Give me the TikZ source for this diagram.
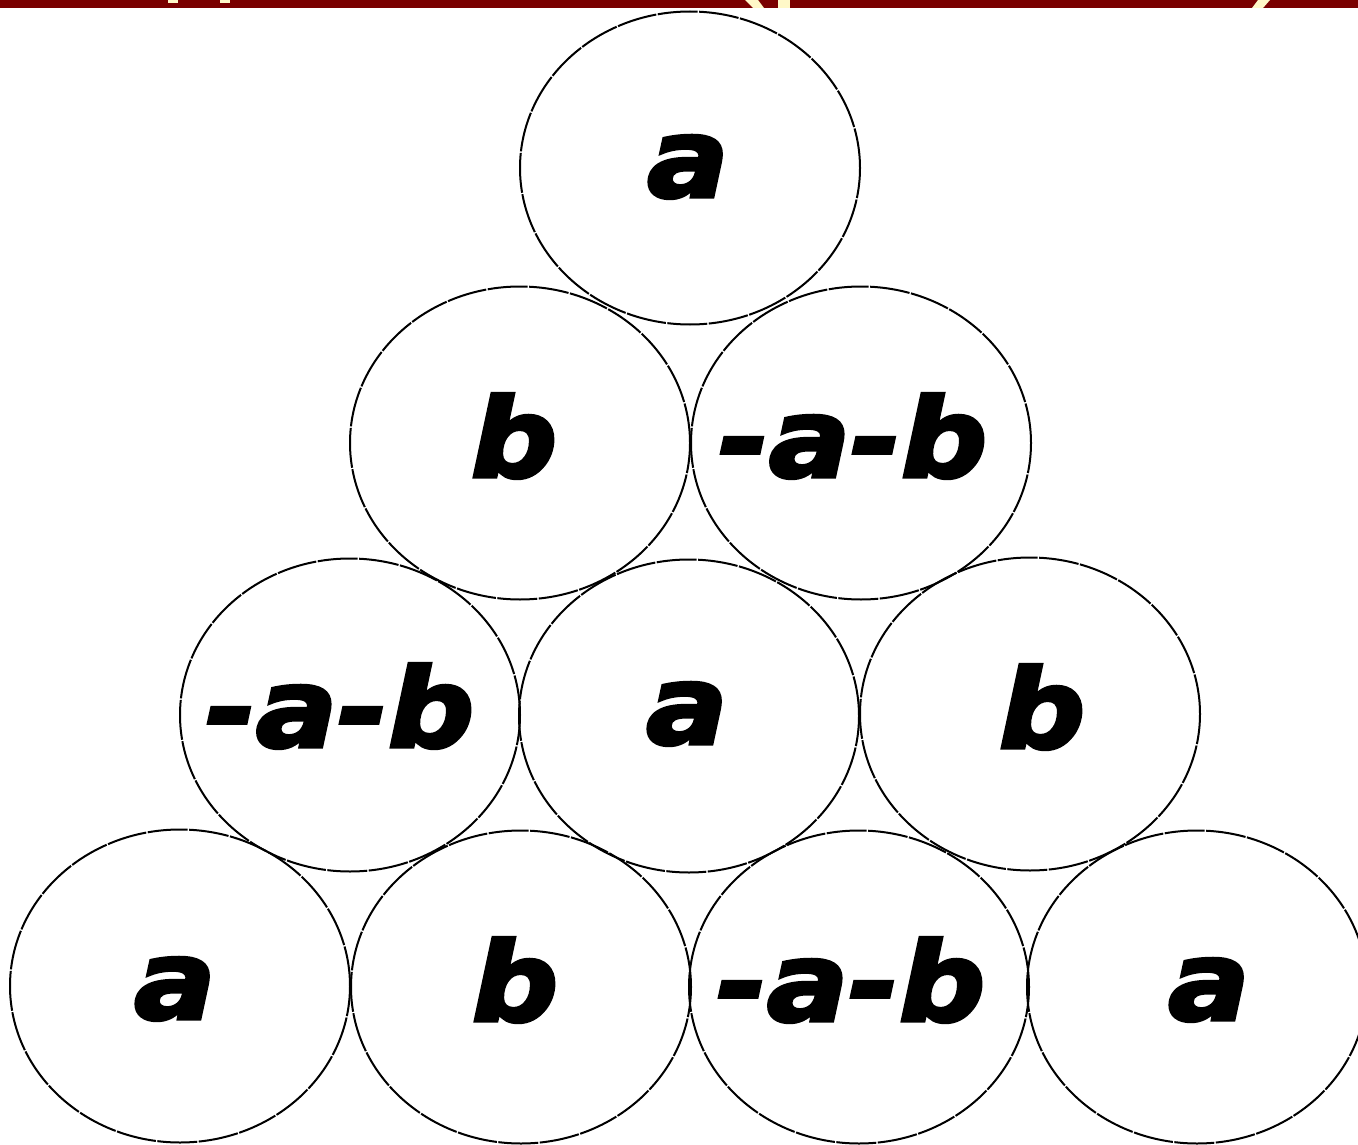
\documentclass[tikz,border=0pt]{standalone}
\usepackage{fontspec}
\newfontfamily\lblfont[FakeBold=3]{DejaVu Sans}
\usetikzlibrary{shapes.geometric}
\definecolor{band}{RGB}{122,0,0}
\definecolor{cream}{RGB}{255,248,200}
\begin{document}
\begin{tikzpicture}[x=1pt,y=-1pt,
  ball/.style={ellipse,draw=black,line width=2pt,minimum width=340pt,minimum height=313pt,inner sep=0pt,dash pattern=on 40pt off 1.5pt},
  lbl/.style={anchor=base,inner sep=0pt,font=\lblfont\bfseries\itshape\fontsize{110}{120}\selectfont,xscale=1.1}]
\useasboundingbox (0,0) rectangle (1358,1145);
\fill[white] (0,0) rectangle (1358,1145);
% top band with cut-off title fragments
\fill[band] (0,0) rectangle (1358,8);
\fill[cream] (168,0) rectangle (178,3);
\fill[cream] (220,0) rectangle (230,3);
\fill[cream] (745,0) -- (758,0) -- (764,8) -- (753,8) -- cycle;
\fill[cream] (778,0) rectangle (790,8);
\fill[cream] (1258,0) -- (1270,0) -- (1263,8) -- (1252,8) -- cycle;
% balls
\node[ball] (t1) at (690,168) {};
\node[ball] (r2a) at (520,443) {};
\node[ball] (r2b) at (861,443) {};
\node[ball] (r3a) at (350,715) {};
\node[ball] (r3b) at (689,716) {};
\node[ball] (r3c) at (1030,714) {};
\node[ball] (r4a) at (180,986) {};
\node[ball] (r4b) at (521,987) {};
\node[ball] (r4c) at (859,987) {};
\node[ball] (r4d) at (1197,987) {};
% labels
\node[lbl] (lt1) at ([xshift=-2pt,yshift=-29pt]t1.center) {a};
\node[lbl] (l2a) at ([xshift=-6pt,yshift=-34pt]r2a.center) {b};
\node[lbl] (l2b) at ([xshift=-8pt,yshift=-34pt]r2b.center) {-a-b};
\node[lbl] (l3a) at ([xshift=-10pt,yshift=-32pt]r3a.center) {-a-b};
\node[lbl] (l3b) at ([xshift=-2pt,yshift=-28pt]r3b.center) {a};
\node[lbl] (l3c) at ([xshift=12pt,yshift=-34pt]r3c.center) {b};
\node[lbl] (l4a) at ([xshift=-5pt,yshift=-33pt]r4a.center) {a};
\node[lbl] (l4b) at ([xshift=-6pt,yshift=-34pt]r4b.center) {b};
\node[lbl] (l4c) at ([xshift=-8pt,yshift=-34pt]r4c.center) {-a-b};
\node[lbl] (l4d) at ([xshift=12pt,yshift=-33pt]r4d.center) {a};
\end{tikzpicture}
\end{document}
